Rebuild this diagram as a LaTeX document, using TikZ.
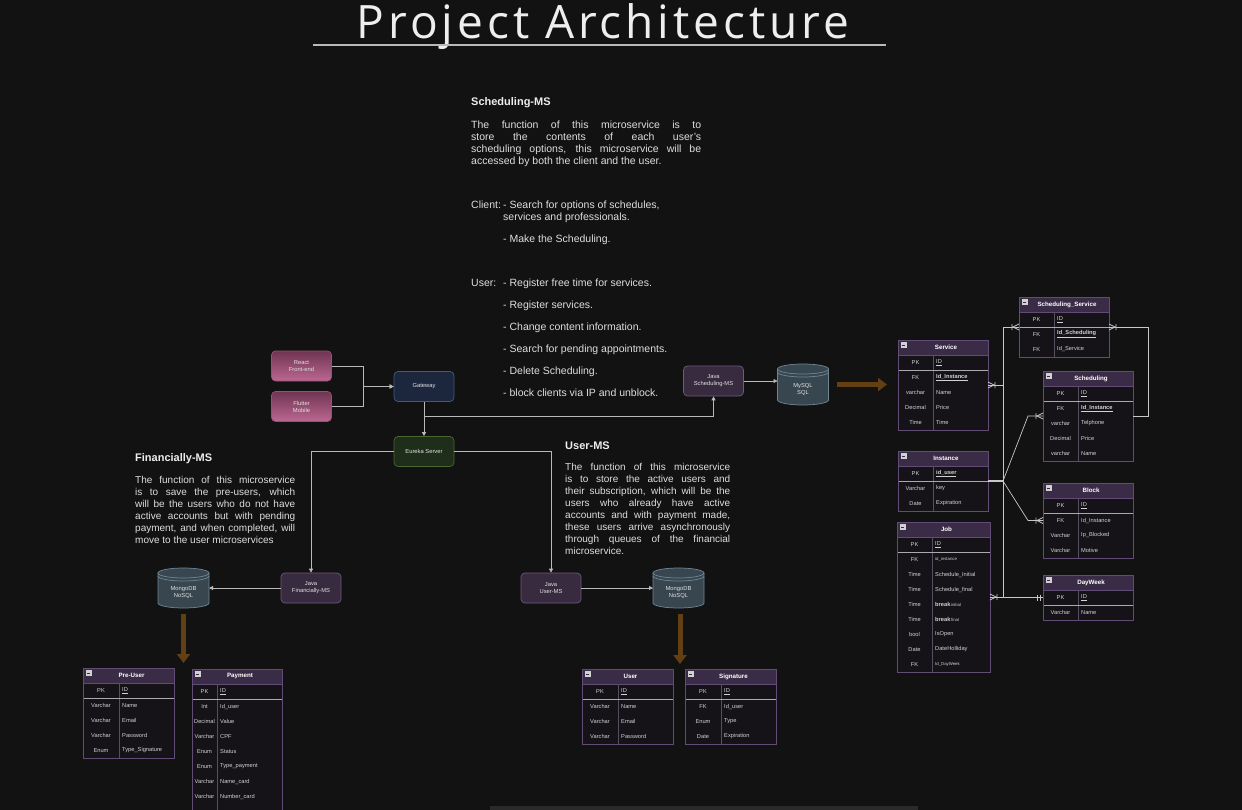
\documentclass[tikz,border=0pt]{standalone}
\usepackage{fontspec}
\setmainfont{Liberation Sans}
\newfontfamily\titlefont{Open Sans}[LetterSpace=8.5]
\usetikzlibrary{arrows.meta}

\definecolor{bgcol}{RGB}{18,18,18}
\definecolor{titletxt}{RGB}{238,238,238}
\definecolor{paratxt}{RGB}{222,222,222}
\definecolor{linecol}{RGB}{185,185,185}
\definecolor{erlinecol}{RGB}{200,200,200}
\definecolor{nodetxt}{RGB}{225,225,225}
\definecolor{clienttop}{RGB}{112,52,82}
\definecolor{clientbot}{RGB}{188,104,146}
\definecolor{clientline}{RGB}{150,82,118}
\definecolor{gatefill}{RGB}{28,39,62}
\definecolor{gateline}{RGB}{66,90,124}
\definecolor{eurfill}{RGB}{30,46,26}
\definecolor{eurline}{RGB}{70,104,46}
\definecolor{javafill}{RGB}{56,42,63}
\definecolor{javaline}{RGB}{112,90,126}
\definecolor{dsfill}{RGB}{56,70,80}
\definecolor{dsline}{RGB}{112,134,148}
\definecolor{browncol}{RGB}{98,64,20}
\definecolor{tblhead}{RGB}{58,44,70}
\definecolor{tblbody}{RGB}{21,19,23}
\definecolor{tblframe}{RGB}{96,76,116}
\definecolor{tbldiv}{RGB}{88,78,98}
\definecolor{tblsep}{RGB}{170,170,170}
\definecolor{tbltxt}{RGB}{210,210,210}
\definecolor{stripcol}{RGB}{42,42,42}

\tikzset{
  flow/.style={draw=linecol, line width=0.8pt, -{Triangle[length=4pt,width=4pt]}},
  erline/.style={draw=erlinecol, line width=0.7pt},
  erthick/.style={draw=erlinecol, line width=1.8pt},
  dataflow/.style={draw=browncol, line width=5pt, -{Triangle[length=9pt,width=13pt]}},
  box/.style={rounded corners=4pt, minimum width=60pt, minimum height=30pt, inner sep=1pt,
    align=center, text=nodetxt, font=\fontsize{5.8}{7}\selectfont, line width=0.7pt},
  client/.style={box, draw=clientline, top color=clienttop, bottom color=clientbot},
  gate/.style={box, draw=gateline, fill=gatefill},
  eureka/.style={box, draw=eurline, fill=eurfill},
  javams/.style={box, draw=javaline, fill=javafill},
  dsbody/.style={draw=dsline, fill=dsfill, line width=0.7pt},
  dsrim/.style={draw=dsline, line width=0.7pt},
  dsbox/.style={inner sep=0pt, outer sep=0pt},
  dstext/.style={align=center, inner sep=0pt, text=nodetxt, font=\fontsize{5.8}{7}\selectfont},
  tblrow/.style={inner sep=0pt, outer sep=0pt, minimum height=15pt},
  tblkey/.style={inner sep=0pt, text=tbltxt, font=\fontsize{5.7}{7}\selectfont},
  tblfield/.style={tblkey, anchor=west},
  tbltitle/.style={inner sep=0pt, text=white, font=\fontsize{6.2}{7}\selectfont\bfseries},
  heading/.style={anchor=west, inner sep=0pt, text=titletxt, font=\fontsize{11}{13}\selectfont\bfseries},
  para/.style={anchor=north west, inner sep=0pt, align=left, text=paratxt, font=\fontsize{10.5}{12}\selectfont},
  title/.style={anchor=base, inner sep=0pt, text=titletxt, font=\titlefont\fontsize{46}{54}\selectfont}
}

% one justified line of a text block
\newcommand{\jl}[2]{\makebox[#1][s]{#2}}
\newcommand{\smalltxt}[1]{{\fontsize{4.3}{5}\selectfont #1}}
% table: name, x, y, width, key width, rows, title
\newcommand{\ertable}[7]{%
  \def\tblx{#2}\def\tbly{#3}\def\tblw{#4}\def\tblk{#5}%
  \fill[tblbody] (#2,#3) rectangle ++(#4,15+15*#6);
  \fill[tblhead] (#2,#3) rectangle ++(#4,15);
  \draw[tblframe] (#2,#3+15) -- ++(#4,0);
  \draw[tbldiv] (#2+#5,#3+15) -- ++(0,15*#6);
  \draw[tblsep] (#2,#3+30) -- ++(#4,0);
  \draw[tblframe] (#2,#3) rectangle ++(#4,15+15*#6);
  \filldraw[fill=tbltxt, draw=tbltxt] (#2+3,#3+2.5) rectangle ++(5,5);
  \draw[tblhead, line width=0.8pt] (#2+4,#3+5) -- ++(3,0);
  \node[tbltitle] (#1) at (#2+#4/2+3,#3+7.5) {#7};
}
% row: table name, index, key, field
\newcommand{\tablerow}[4]{%
  \node[tblrow, minimum width=\tblw, anchor=north west] (#1-#2) at (\tblx,\tbly+15*#2) {};
  \node[tblkey] (#1-#2k) at (\tblx+\tblk/2,\tbly+15*#2+7.5) {#3};
  \node[tblfield] (#1-#2f) at (\tblx+\tblk+3,\tbly+15*#2+7.5) {#4};
}
% cylinder: name, centre x, top y, radius, height, text
\newcommand{\datastore}[6]{%
  \filldraw[dsbody] (#2-#4,#3+5) -- (#2-#4,#3+#5-5) arc[start angle=180,end angle=0,x radius=#4,y radius=5]
    -- (#2+#4,#3+5) arc[start angle=0,end angle=-180,x radius=#4,y radius=5] -- cycle;
  \draw[dsrim] (#2-#4,#3+5) arc[start angle=180,end angle=0,x radius=#4,y radius=5];
  \draw[dsrim] (#2-#4,#3+8) arc[start angle=180,end angle=0,x radius=#4,y radius=5];
  \node[dsbox, minimum width=2*#4, minimum height=#5] (#1) at (#2,#3+#5/2) {};
  \node[dstext] (#1t) at (#2,#3+#5/2+5) {#6};
}
% crow's foot and one-one marks, dir 1 = line leaves to the right
\newcommand{\ermany}[2]{\draw[erline, shift={(#1)}] (0,-3) -- (#2*6,0) -- (0,3) (#2*7,-3) -- (#2*7,3);}
\newcommand{\erone}[2]{\draw[erline, shift={(#1)}] (#2*3,-3) -- (#2*3,3) (#2*6,-3) -- (#2*6,3);}

\begin{document}
\begin{tikzpicture}[x=1pt,y=-1pt]
  \useasboundingbox (0,0) rectangle (1242,810);
  \clip (0,0) rectangle (1242,810);
  \fill[bgcol] (0,0) rectangle (1242,810);
  \fill[stripcol] (490,806) rectangle (918,812);

  % title
  \node[title] (title) at (603,39) {Project Architecture};
  \draw[linecol, line width=1.6pt] (313,45) -- (886,45);

  % texts
  \node[heading] (schhead) at (471,103) {Scheduling-MS};
  \node[para] (schdesc) at (471,121) {\jl{230pt}{The function of this microservice is to}\\
    \jl{230pt}{store the contents of each user's}\\
    \jl{230pt}{scheduling options, this microservice will be}\\
    accessed by both the client and the user.};
  \node[para] (schclient) at (471,201) {Client:};
  \node[para] (schclientjobs) at (503,201) {- Search for options of schedules,\\
    services and professionals.\\[10pt]
    - Make the Scheduling.};
  \node[para] (schuser) at (471,279) {User:};
  \node[para] (schuserjobs) at (503,279) {- Register free time for services.\\[10pt]
    - Register services.\\[10pt]
    - Change content information.\\[10pt]
    - Search for pending appointments.\\[10pt]
    - Delete Scheduling.\\[10pt]
    - block clients via IP and unblock.};

  \node[heading] (finhead) at (135,459) {Financially-MS};
  \node[para, font=\fontsize{10}{12}\selectfont] (findesc) at (135,476) {\jl{160pt}{The function of this microservice}\\
    \jl{160pt}{is to save the pre-users, which}\\
    \jl{160pt}{will be the users who do not have}\\
    \jl{160pt}{active accounts but with pending}\\
    \jl{160pt}{payment, and when completed, will}\\
    move to the user microservices};

  \node[heading] (userhead) at (565,446) {User-MS};
  \node[para, font=\fontsize{10}{12}\selectfont] (userdesc) at (565,463) {\jl{165pt}{The function of this microservice}\\
    \jl{165pt}{is to store the active users and}\\
    \jl{165pt}{their subscription, which will be the}\\
    \jl{165pt}{users who already have active}\\
    \jl{165pt}{accounts and with payment made,}\\
    \jl{165pt}{these users arrive asynchronously}\\
    \jl{165pt}{through queues of the financial}\\
    microservice.};

  % services
  \node[client] (react) at (301.5,366) {React\\Front-end};
  \node[client] (flutter) at (301.5,406.5) {Flutter\\Mobile};
  \node[gate] (gateway) at (424,386.5) {Gateway};
  \node[eureka] (eureka) at (424,451.5) {Eureka Server};
  \node[javams] (javasch) at (713.5,381) {Java\\Scheduling-MS};
  \node[javams] (javafin) at (311,588) {Java\\Financially-MS};
  \node[javams] (javauser) at (551,588) {Java\\User-MS};
  \datastore{mongofin}{183.5}{568}{25.5}{40}{MongoDB\\NoSQL}
  \datastore{mongouser}{678.5}{568}{25.5}{40}{MongoDB\\NoSQL}
  \datastore{mysql}{803}{364}{25.5}{41}{MySQL\\SQL}

  \draw[flow] (react.east) -- ++(32,0) |- (gateway.west);
  \draw[flow] (flutter.east) -- ++(32,0) |- (gateway.west);
  \draw[flow] (gateway.south) -- (eureka.north);
  \draw[flow] (gateway.south) -- ++(0,15) -| (javasch.south);
  \draw[flow] (eureka.west) -| (javafin.north);
  \draw[flow] (eureka.east) -| (javauser.north);
  \draw[flow] (javafin.west) -- (javafin.west -| mongofin.east);
  \draw[flow] (javauser.east) -- (javauser.east -| mongouser.west);
  \draw[flow] (javasch.east) -- (javasch.east -| mysql.west);

  \coordinate (finstore) at (183.5,663);
  \coordinate (userstore) at (680,664);
  \coordinate (schstore) at (887,384.5);
  \draw[dataflow] ([yshift=-6pt]mongofin.south) -- (finstore);
  \draw[dataflow] ([yshift=-6pt,xshift=1.5pt]mongouser.south) -- (userstore);
  \draw[dataflow] ([xshift=8pt]mysql.east) -- (schstore);

  % financial tables
  \ertable{pre}{83}{668}{91}{36}{5}{Pre-User}
  \tablerow{pre}{1}{PK}{\underline{ID}}
  \tablerow{pre}{2}{Varchar}{Name}
  \tablerow{pre}{3}{Varchar}{Email}
  \tablerow{pre}{4}{Varchar}{Password}
  \tablerow{pre}{5}{Enum}{Type\_Signature}

  \ertable{pay}{192}{669}{90}{25}{9}{Payment}
  \tablerow{pay}{1}{PK}{\underline{ID}}
  \tablerow{pay}{2}{Int}{Id\_user}
  \tablerow{pay}{3}{Decimal}{Value}
  \tablerow{pay}{4}{Varchar}{CPF}
  \tablerow{pay}{5}{Enum}{Status}
  \tablerow{pay}{6}{Enum}{Type\_payment}
  \tablerow{pay}{7}{Varchar}{Name\_card}
  \tablerow{pay}{8}{Varchar}{Number\_card}

  % user tables
  \ertable{usr}{582}{669}{91}{36}{4}{User}
  \tablerow{usr}{1}{PK}{\underline{ID}}
  \tablerow{usr}{2}{Varchar}{Name}
  \tablerow{usr}{3}{Varchar}{Email}
  \tablerow{usr}{4}{Varchar}{Password}

  \ertable{sig}{685}{669}{91}{36}{4}{Signature}
  \tablerow{sig}{1}{PK}{\underline{ID}}
  \tablerow{sig}{2}{FK}{Id\_user}
  \tablerow{sig}{3}{Enum}{Type}
  \tablerow{sig}{4}{Date}{Expiration}

  % scheduling tables
  \ertable{svc}{898}{340}{90}{35}{5}{Service}
  \tablerow{svc}{1}{PK}{\underline{ID}}
  \tablerow{svc}{2}{FK}{\underline{\textbf{Id\_Instance}}}
  \tablerow{svc}{3}{varchar}{Name}
  \tablerow{svc}{4}{Decimal}{Price}
  \tablerow{svc}{5}{Time}{Time}

  \ertable{ss}{1019}{297}{90}{35}{3}{Scheduling\_Service}
  \tablerow{ss}{1}{PK}{\underline{ID}}
  \tablerow{ss}{2}{FK}{\underline{\textbf{Id\_Scheduling}}}
  \tablerow{ss}{3}{FK}{Id\_Service}

  \ertable{sch}{1043}{371}{90}{35}{5}{Scheduling}
  \tablerow{sch}{1}{PK}{\underline{ID}}
  \tablerow{sch}{2}{FK}{\underline{\textbf{Id\_Instance}}}
  \tablerow{sch}{3}{varchar}{Telphone}
  \tablerow{sch}{4}{Decimal}{Price}
  \tablerow{sch}{5}{varchar}{Name}

  \ertable{inst}{898}{451}{90}{35}{3}{Instance}
  \tablerow{inst}{1}{PK}{\underline{\textbf{id\_user}}}
  \tablerow{inst}{2}{Varchar}{key}
  \tablerow{inst}{3}{Date}{Expiration}

  \ertable{job}{897}{522}{93}{35}{9}{Job}
  \tablerow{job}{1}{PK}{\underline{ID}}
  \tablerow{job}{2}{FK}{\smalltxt{id\_instance}}
  \tablerow{job}{3}{Time}{Schedule\_Initial}
  \tablerow{job}{4}{Time}{Schedule\_final}
  \tablerow{job}{5}{Time}{\textbf{break}\smalltxt{\,initial}}
  \tablerow{job}{6}{Time}{\textbf{break}\smalltxt{\,final}}
  \tablerow{job}{7}{bool}{IsOpen}
  \tablerow{job}{8}{Date}{DateHolliday}
  \tablerow{job}{9}{FK}{\smalltxt{Id\_DayWeek}}

  \ertable{blk}{1043}{483}{90}{35}{4}{Block}
  \tablerow{blk}{1}{PK}{\underline{ID}}
  \tablerow{blk}{2}{FK}{Id\_Instance}
  \tablerow{blk}{3}{Varchar}{Ip\_Blocked}
  \tablerow{blk}{4}{Varchar}{Motive}

  \ertable{dw}{1043}{575}{90}{35}{2}{DayWeek}
  \tablerow{dw}{1}{PK}{\underline{ID}}
  \tablerow{dw}{2}{Varchar}{Name}

  % relations
  \coordinate (hub) at (1003,481);
  \draw[erthick] (inst-1.south east) -- (hub);
  \draw[erline] (hub) |- (svc-2.south east);
  \draw[erline] (hub) |- (ss-1.south west);
  \draw[erline] (hub) -- ([xshift=-15pt]sch-2.south west) -- (sch-2.south west);
  \draw[erline] (hub) -- ([xshift=-15pt]blk-2.west) -- (blk-2.west);
  \draw[erline] (hub) -- (hub |- job-4.south east);
  \draw[erline] (job-4.south east) -- (job-4.south east -| dw-1.west);
  \draw[erline] (ss-1.south east) -- ++(39,0) |- (sch-2.south east);
  \ermany{svc-2.south east}{1}
  \ermany{ss-1.south west}{-1}
  \ermany{ss-1.south east}{1}
  \ermany{sch-2.south west}{-1}
  \ermany{blk-2.west}{-1}
  \ermany{job-4.south east}{1}
  \erone{dw-1.west}{-1}
\end{tikzpicture}
\end{document}
